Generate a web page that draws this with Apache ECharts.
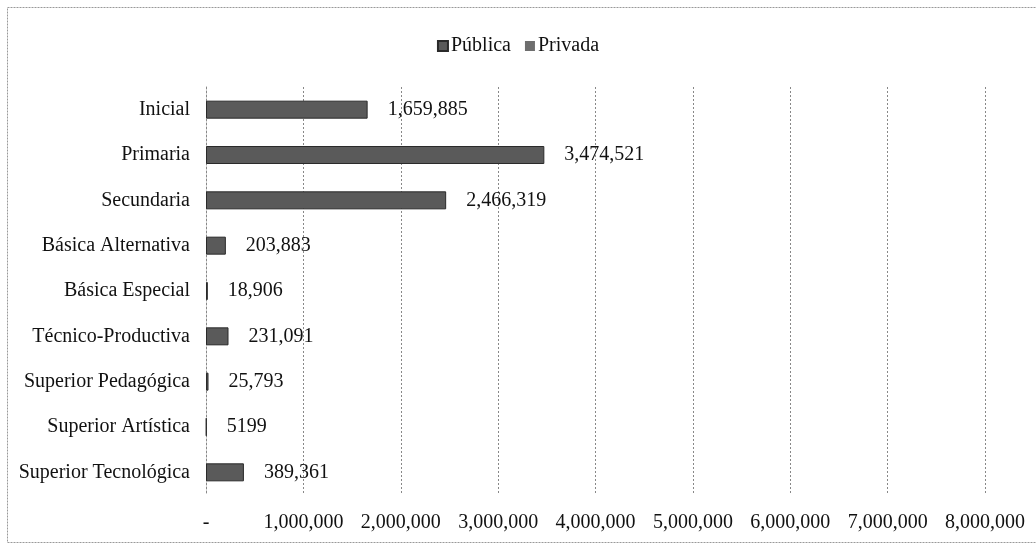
<!DOCTYPE html>
<html><head><meta charset="utf-8">
<script src="https://cdn.jsdelivr.net/npm/echarts@6/dist/echarts.min.js"></script>
<style>html,body{margin:0;padding:0;background:#fff}#c{width:1036px;height:550px}</style>
</head><body><div id="c"></div>
<script>
const categories = ['Inicial','Primaria','Secundaria','Básica Alternativa','Básica Especial','Técnico-Productiva','Superior Pedagógica','Superior Artística','Superior Tecnológica'];
const publica = [1659885, 3474521, 2466319, 203883, 18906, 231091, 25793, 5199, 389361];
const privada = [null, null, null, null, null, null, null, null, null];
const seriesNames = ['Pública','Privada'];

const font = '"Liberation Serif", "DejaVu Serif", serif';
const fmt = v => v === 0 ? '-' : v.toLocaleString('en-US');
const labelFmt = v => v < 10000 ? String(v) : v.toLocaleString('en-US');

const chart = echarts.init(document.getElementById('c'));
chart.setOption({
  animation: false,
  backgroundColor: '#fff',
  textStyle: {fontFamily: font},
  graphic: [{type:'rect', shape:{x:7.5,y:7.5,width:1040,height:535}, style:{fill:'none', stroke:'#999', lineWidth:1, lineDash:[2,1]}, silent:true}],
  legend: {
    data: seriesNames, top: 31, left: 'center',
    itemWidth: 10, itemHeight: 10, itemGap: 14,
    icon: 'rect',
    textStyle: {fontFamily: font, fontSize: 20, color: '#111', padding:[0,0,0,-2]}
  },
  grid: {left: 206, right: 51, top: 87, bottom: 55, containLabel: false},
  xAxis: {
    type: 'value', min: 0, max: 8000000, interval: 1000000,
    axisLine: {show: false}, axisTick: {show: false},
    splitLine: {show: true, lineStyle: {color: '#888', type: [2,2], width: 1}},
    axisLabel: {fontFamily: font, fontSize: 20, color: '#111', margin: 18, formatter: fmt}
  },
  yAxis: {
    type: 'category', data: categories, inverse: true,
    axisLine: {show: true, lineStyle: {color: '#888', type: [2,2]}},
    axisTick: {show: false},
    axisLabel: {fontFamily: font, fontSize: 20, color: '#111', margin: 16}
  },
  series: [
    {name: seriesNames[0], type: 'bar', stack: 's', data: publica, barWidth: 18,
     itemStyle: {color: '#5a5a5a', borderColor: '#2a2a2a', borderWidth: 1},
     label: {show: true, position: 'right', distance: 20, fontFamily: font, fontSize: 20, color: '#111', formatter: p => labelFmt(p.value)}},
    {name: seriesNames[1], type: 'bar', stack: 's', data: privada, barWidth: 18,
     itemStyle: {color: '#6e6e6e'}}
  ]
});
</script></body></html>
